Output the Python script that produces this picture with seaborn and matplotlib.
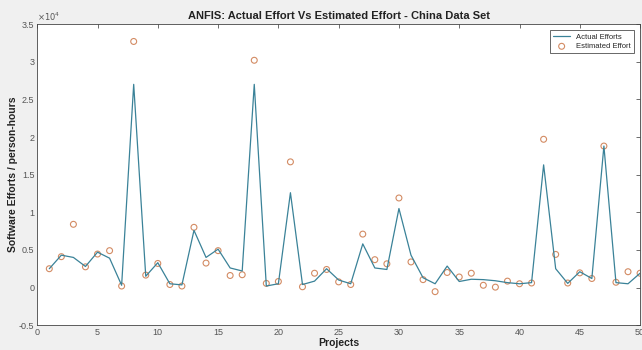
import numpy as np
import pandas as pd
import matplotlib
matplotlib.use("Agg")
import matplotlib.pyplot as plt
from matplotlib.ticker import FuncFormatter
import seaborn as sns


projects = list(range(1, 51))

# values, in person-hours
actual_effort = [
    2500, 4300, 4000, 2800, 4700, 3900, 300, 27000, 1500, 3300,
    500, 350, 7600, 4000, 5100, 2600, 2200, 27000, 200, 500,
    12600, 400, 850, 2500, 1000, 500, 5800, 2600, 2400, 10500,
    4300, 1300, 500, 2850, 800, 1100, 1050, 900, 650, 500,
    650, 16300, 2500, 550, 2100, 1200, 18800, 650, 500, 1900,
]

estimated_effort = [
    2500, 4100, 8400, 2750, 4450, 4900, 200, 32700, 1650, 3200,
    400, 200, 8000, 3250, 4900, 1600, 1700, 30200, 550, 800,
    16700, 100, 1900, 2400, 750, 400, 7100, 3700, 3150, 11900,
    3400, 1050, -550, 2000, 1400, 1900, 300, 50, 850, 500,
    600, 19700, 4400, 600, 1950, 1200, 18800, 700, 2100, 1900,
]

df = pd.DataFrame({
    "Projects": projects,
    "Actual": actual_effort,
    "Estimated": estimated_effort,
})

sns.set_style("white")
plt.rcParams['font.family'] = ['Liberation Sans', 'DejaVu Sans']

fig = plt.figure(figsize=(6.42, 3.5), dpi=100, facecolor="#f0f0f0")
ax = fig.add_axes([0.058, 0.071, 0.939, 0.860])

sns.lineplot(data=df, x="Projects", y="Actual", ax=ax,
             color="#3a8298", linewidth=0.9, label="Actual Efforts")
sns.scatterplot(data=df, x="Projects", y="Estimated", ax=ax,
                marker="o", s=18, facecolors="none", edgecolor="#d38b63",
                linewidth=0.8, label="Estimated Effort")

ax.set_xlim(0, 50)
ax.set_ylim(-5000, 35000)
ax.set_xticks(range(0, 51, 5))
ax.set_yticks(np.arange(-5000, 35001, 5000))
ax.yaxis.set_major_formatter(FuncFormatter(lambda v, p: f"{v / 1e4:g}"))

ax.tick_params(direction="in", length=3, width=0.6, colors="#555555",
               labelsize=6.5, top=True, right=True, pad=2)
for s in ax.spines.values():
    s.set_color("#444444")
    s.set_linewidth(0.6)

ax.text(0.0, 1.005, r"$\times10^4$", transform=ax.transAxes,
        fontsize=6, color="#555555", ha="left", va="bottom")

ax.set_title("ANFIS: Actual Effort Vs Estimated Effort - China Data Set",
             fontsize=8, fontweight="bold", color="#222222", pad=4)
ax.set_xlabel("Projects", fontsize=7.5, fontweight="bold", color="#222222", labelpad=1)
ax.set_ylabel("Software Efforts / person-hours", fontsize=7.5,
              fontweight="bold", color="#222222", labelpad=1)

leg = ax.legend(loc="upper right", fontsize=5.5, frameon=True, fancybox=False,
                borderpad=0.4, handlelength=2.2, labelspacing=0.3,
                borderaxespad=0.8)
leg.get_frame().set_edgecolor("#222222")
leg.get_frame().set_linewidth(0.6)

fig.savefig("out.png", dpi=100, facecolor=fig.get_facecolor())
